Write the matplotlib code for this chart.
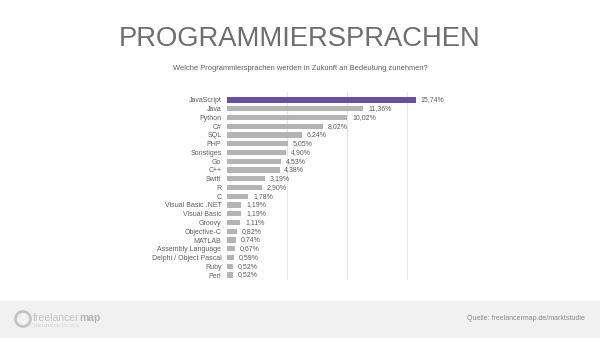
import matplotlib as mpl
import matplotlib.pyplot as plt
from matplotlib.patches import Rectangle, Ellipse

mpl.rcParams['font.family'] = ['Liberation Sans', 'DejaVu Sans']

sprachen = ['JavaScript', 'Java', 'Python', 'C#', 'SQL', 'PHP', 'Sonstiges',
            'Go', 'C++', 'Swift', 'R', 'C', 'Visual Basic .NET', 'Visual Basic',
            'Groovy', 'Objective-C', 'MATLAB', 'Assembly Language',
            'Delphi / Object Pascal', 'Ruby', 'Perl']
anteile = [15.74, 11.36, 10.02, 8.02, 6.24, 5.05, 4.90, 4.53, 4.38, 3.19,
           2.90, 1.78, 1.19, 1.19, 1.11, 0.82, 0.74, 0.67, 0.59, 0.52, 0.52]

GRAU = '#b4b4b4'
LILA = '#6a4ea3'
TEXT = '#5e5e5e'

fig = plt.figure(figsize=(6, 3.38), dpi=100)

fig.text(0.5, 1 - 39 / 338, 'PROGRAMMIERSPRACHEN', fontsize=19.7,
         color='#6e6e6e', ha='center', va='center')
fig.text(0.5, 1 - 68 / 338,
         'Welche Programmiersprachen werden in Zukunft an Bedeutung zunehmen?',
         fontsize=5.4, color=TEXT, ha='center', va='center')

ax = fig.add_axes([227 / 600, 1 - 280 / 338, 240 / 600, 188 / 338])
y = range(len(sprachen))
farben = [LILA] + [GRAU] * (len(sprachen) - 1)
ax.barh(y, anteile, height=0.6, color=farben, zorder=2)
for i, v in enumerate(anteile):
    ax.text(v + 0.4, i, f'{v:.2f}%'.replace('.', ','), va='center',
            fontsize=5, color=TEXT)

ax.set_xlim(0, 20)
ax.set_ylim(20.57, -0.91)
ax.set_xticks([5, 10, 15])
ax.xaxis.grid(True, color='#e6e6e6', lw=0.8)
ax.set_yticks(list(y))
ax.set_yticklabels(sprachen, fontsize=5, color=TEXT)
ax.tick_params(length=0, pad=4)
ax.tick_params(axis='x', labelbottom=False)
for s in ax.spines.values():
    s.set_visible(False)

# Fußzeile mit Logo
fig.patches.append(Rectangle((0, 0), 1, 0.11, transform=fig.transFigure,
                             color='#f1f1f1', zorder=0))
fig.patches.append(Ellipse((23 / 600, 1 - 319 / 338), 15 / 600, 15 / 338,
                           transform=fig.transFigure, facecolor='none',
                           edgecolor='#c4c4c4', lw=2))
yb = 1 - 321 / 338
t = fig.text(33 / 600, yb, 'freelancer', fontsize=7.5, color='#c4c4c4',
             va='baseline')
fig.canvas.draw()
x1 = fig.transFigure.inverted().transform(
    t.get_window_extent(fig.canvas.get_renderer()).p1)[0]
fig.text(x1, yb, 'map', fontsize=7.5, color='#b8b8b8', weight='bold',
         va='baseline')
fig.text(34 / 600, 1 - 326 / 338, 'FIND EXPERTS AND PROJECTS', fontsize=2.2,
         color='#cccccc', va='center')
fig.text(0.975, 1 - 319 / 338, 'Quelle: freelancermap.de/marktstudie',
         fontsize=5, color='#8a8a8a', ha='right', va='center')

fig.savefig('out.png', dpi=100)
